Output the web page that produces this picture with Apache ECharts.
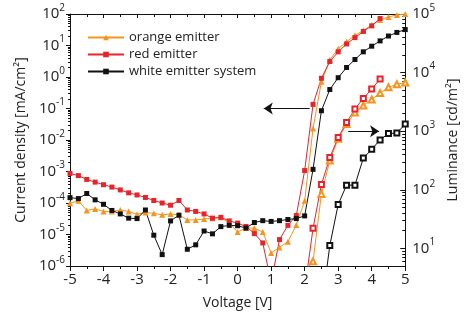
<!DOCTYPE html>
<html>
<head>
<meta charset="utf-8">
<script src="https://cdn.jsdelivr.net/npm/echarts@6/dist/echarts.min.js"></script>
<style>
  html, body { margin: 0; padding: 0; background: #fff; }
  #chart { width: 468px; height: 320px; }
</style>
</head>
<body>
<div id="chart"></div>
<script>
// voltage steps (V)
const voltage = [-5, -4.75, -4.5, -4.25, -4, -3.75, -3.5, -3.25, -3, -2.75, -2.5, -2.25, -2, -1.75, -1.5, -1.25, -1, -0.75, -0.5, -0.25,
  0, 0.25, 0.5, 0.75, 1, 1.25, 1.5, 1.75, 2, 2.25, 2.5, 2.75, 3, 3.25, 3.5, 3.75, 4, 4.25, 4.5, 4.75, 5];

// current density [mA/cm2]
const orangeJ = [9.8e-5, 1.17e-4, 5.8e-5, 6.5e-5, 5.4e-5, 5.4e-5, 6.0e-5, 5.4e-5, 4.4e-5, 5.0e-5, 4.7e-5, 4.2e-5, 4.5e-5, 4.2e-5, 2.9e-5, 2.9e-5, 3.1e-5, 3.3e-5, 3.5e-5, 2.3e-5,
  1.2e-5, 1.6e-5, 1.6e-5, 1.2e-5, 2.6e-6, 3.9e-6, 5.9e-6, 2.0e-5, 1.17e-4, 0.023, 0.71, 3.5, 7.9, 13.2, 21, 30, 45, 65, 81, 93, 100];
const redJ = [8.7e-4, 7.4e-4, 5.6e-4, 4.6e-4, 3.8e-4, 3.2e-4, 2.6e-4, 2.1e-4, 1.8e-4, 1.5e-4, 1.2e-4, 1.0e-4, 8.5e-5, 1.2e-4, 6.0e-5, 5.4e-5, 4.5e-5, 3.3e-5, 3.5e-5, 2.7e-5,
  2.3e-5, 1.8e-5, 1.07e-5, 5.4e-6, 3e-7, 6.9e-6, 1.95e-5, 4.0e-5, 1.07e-3, 0.135, 0.91, 3.1, 6.3, 11.2, 17.8, 28, 42, 72, null, null, null];
const whiteJ = [1.48e-4, 1.38e-4, 2.0e-4, 1.26e-4, 9.1e-5, 5.8e-5, 4.5e-5, 3.3e-5, 3.2e-5, 6.0e-5, 9.5e-6, 2.3e-6, 2.7e-5, 4.1e-5, 3.4e-6, 4.7e-6, 1.29e-5, 1.05e-5, 1.78e-5, 1.95e-5,
  1.9e-5, 1.6e-5, 2.4e-5, 2.75e-5, 2.6e-5, 2.75e-5, 3.0e-5, 3.2e-5, 3.9e-5, 1.17e-3, 0.085, 0.40, 0.95, 2.0, 3.6, 6.3, 9.5, 14, 20, 26, 32];

// luminance [cd/m2], from 2 V on
const lumVoltage = [2, 2.25, 2.5, 2.75, 3, 3.25, 3.5, 3.75, 4, 4.25, 4.5, 4.75, 5];
const orangeL = [4, 6.0, 85, 316, 740, 1320, 2090, 2750, 3470, 4470, 5620, 6310, 6760];
const redL = [2, 22, 123, 355, 780, 1410, 2400, 3630, 5250, 7760, null, null, null];
const whiteL = [null, null, 0.9, 11.2, 56, 120, 120, 347, 490, 710, 910, 930, 1320];

// decade exponents of both log axes
const jDecades = [-6, -5, -4, -3, -2, -1, 0, 1, 2];
const lDecades = [0, 1, 2, 3, 4, 5];

// minor tick positions (in decades) for k = 2..9 inside each decade
function minorOf(decades, lo, hi) {
  const out = [];
  decades.forEach(d => { for (let k = 2; k <= 9; k++) { const v = d + Math.log10(k); if (v > lo && v < hi) out.push(v); } });
  return out;
}

const FONT = '"Open Sans", "Noto Sans", sans-serif';
const TXT = '#222';
const ORANGE = '#f7931e';
const RED = '#e8232a';
const BLACK = '#111';

function pow10(v) {
  const l = Math.log10(v);
  const e = Math.round(l);
  if (Math.abs(l - e) > 1e-6) return '';
  return '{b|10}{s|' + e + '}';
}
const richLbl = {
  b: { fontSize: 15, fontFamily: FONT, color: TXT, lineHeight: 22 },
  s: { fontSize: 10, fontFamily: FONT, color: TXT, verticalAlign: 'top' }
};

function pairs(xs, ys) { return xs.map((x, i) => [x, ys[i]]); }

const chart = echarts.init(document.getElementById('chart'));
const axisLine = { show: true, onZero: false, lineStyle: { color: BLACK, width: 1 } };
const arrowLine = { color: BLACK, width: 1, type: 'solid' };
const LMIN = Math.log10(5);

// helper for tick-only axes (in decades)
function tickAxis(pos, lo, hi, vals, len, inside) {
  return {
    type: 'value', min: lo, max: hi, position: pos,
    axisLine: { show: false, onZero: false }, splitLine: { show: false },
    axisLabel: { show: true, formatter: () => '' },
    axisTick: { show: true, inside, length: len, customValues: vals, lineStyle: { color: BLACK } }
  };
}

chart.setOption({
  animation: false,
  grid: { left: 70, right: 58, top: 14, bottom: 54 },
  legend: {
    orient: 'vertical', left: 82, top: 26, itemGap: 4,
    itemWidth: 36, itemHeight: 7,
    textStyle: { fontFamily: FONT, fontSize: 13, color: TXT },
    data: ['orange emitter', 'red emitter', 'white emitter system']
  },
  xAxis: [{
    type: 'value', min: -5, max: 5, interval: 1, position: 'bottom',
    name: 'Voltage [V]', nameLocation: 'middle', nameGap: 30,
    nameTextStyle: { fontFamily: FONT, fontSize: 14, color: TXT },
    axisLine, splitLine: { show: false },
    axisTick: { show: true, inside: false, length: 5, lineStyle: { color: BLACK } },
    minorTick: { show: true, splitNumber: 2, length: 3, lineStyle: { color: BLACK } },
    axisLabel: { fontFamily: FONT, fontSize: 15, color: TXT, margin: 6 }
  }, {
    type: 'value', min: -5, max: 5, interval: 1, position: 'top',
    axisLine, splitLine: { show: false },
    axisTick: { show: true, inside: true, length: 4, lineStyle: { color: BLACK } },
    minorTick: { show: true, splitNumber: 2, length: 3, lineStyle: { color: BLACK } },
    axisLabel: { show: false }
  }],
  yAxis: [{
    type: 'log', min: 1e-6, max: 100, splitNumber: 8, position: 'left',
    name: 'Current density [mA/cm²]', nameLocation: 'middle', nameGap: 42, nameRotate: 90,
    nameTextStyle: { fontFamily: FONT, fontSize: 14, color: TXT },
    axisLine, splitLine: { show: false },
    axisTick: { show: false },
    axisLabel: { formatter: pow10, rich: richLbl, margin: 5 }
  }, {
    type: 'log', min: 5, max: 1e5, splitNumber: 5, position: 'right',
    name: 'Luminance [cd/m²]', nameLocation: 'middle', nameGap: 33, nameRotate: 90,
    nameTextStyle: { fontFamily: FONT, fontSize: 14, color: TXT },
    axisLine, splitLine: { show: false },
    axisTick: { show: false },
    axisLabel: { formatter: pow10, rich: richLbl, margin: 7 }
  },
    tickAxis('left', -6, 2, jDecades, 4, false),
    tickAxis('left', -6, 2, minorOf(jDecades, -6, 2), 2, false),
    tickAxis('right', LMIN, 5, [1, 2, 3, 4, 5], 5, true),
    tickAxis('right', LMIN, 5, minorOf(lDecades, LMIN, 5), 3, true)
  ],
  series: [{
    name: 'orange emitter', type: 'line', yAxisIndex: 0, data: pairs(voltage, orangeJ),
    symbol: 'triangle', symbolSize: 6, color: ORANGE, lineStyle: { width: 1 },
    markLine: {
      silent: true, symbol: ['none', 'arrow'], symbolSize: 9,
      lineStyle: arrowLine, label: { show: false },
      data: [[{ coord: [2.15, 0.1] }, { coord: [0.78, 0.1] }]]
    }
  }, {
    name: 'red emitter', type: 'line', yAxisIndex: 0, data: pairs(voltage, redJ),
    symbol: 'rect', symbolSize: 5, color: RED, lineStyle: { width: 1 }
  }, {
    name: 'white emitter system', type: 'line', yAxisIndex: 0, data: pairs(voltage, whiteJ),
    symbol: 'rect', symbolSize: 5, color: BLACK, lineStyle: { width: 1 }
  }, {
    name: 'orange L', type: 'line', yAxisIndex: 1, data: pairs(lumVoltage, orangeL),
    symbol: 'emptyTriangle', symbolSize: 6, color: ORANGE, lineStyle: { width: 1 }
  }, {
    name: 'red L', type: 'line', yAxisIndex: 1, data: pairs(lumVoltage, redL),
    symbol: 'emptyRect', symbolSize: 5, color: RED, lineStyle: { width: 1 }
  }, {
    name: 'white L', type: 'line', yAxisIndex: 1, data: pairs(lumVoltage, whiteL),
    symbol: 'emptyRect', symbolSize: 5, color: BLACK, lineStyle: { width: 1 },
    markLine: {
      silent: true, symbol: ['none', 'arrow'], symbolSize: 9,
      lineStyle: arrowLine, label: { show: false },
      data: [[{ coord: [3.3, 1000] }, { coord: [4.22, 1000] }]]
    }
  }]
});
</script>
</body>
</html>
